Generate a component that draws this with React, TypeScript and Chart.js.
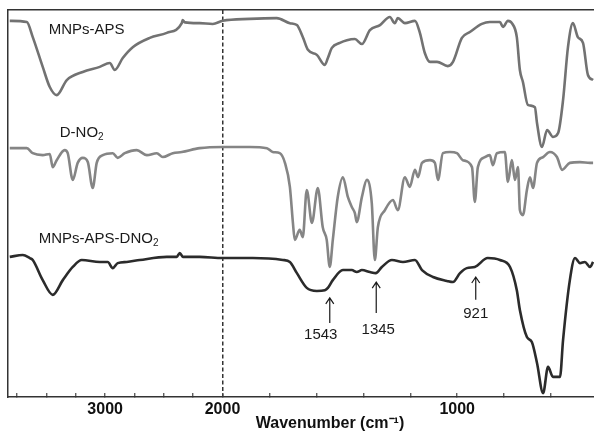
import React, { useEffect, useRef } from 'react';
import { Chart, registerables } from 'chart.js';

Chart.register(...registerables);

// ---- Data (wavenumber in cm-1, transmittance in arbitrary units, offset per trace) ----
const mnpsApsWn = [3813, 3668, 3617, 3532, 3472, 3413, 3327, 3191, 3046, 2961, 2918, 2850, 2765, 2620, 2475, 2347, 2340, 2320, 2194, 2083, 1999, 1884, 1769, 1713, 1683, 1658, 1636, 1598, 1564, 1551, 1534, 1500, 1470, 1436, 1406, 1372, 1329, 1287, 1266, 1253, 1223, 1180, 1159, 1138, 1116, 1086, 1040, 1018, 980, 946, 895, 861, 818, 805, 784, 767, 746, 733, 720, 699, 669, 660, 639, 617, 592, 570, 549, 528, 507, 486, 464, 443, 421];
const mnpsApsT = [97.2, 96.9, 93.0, 85.3, 80.1, 78.0, 81.9, 84.0, 85.3, 86.3, 84.5, 87.6, 90.4, 92.8, 94.1, 96.6, 97.4, 96.8, 96.6, 96.4, 97.2, 97.7, 97.9, 96.6, 96.1, 93.0, 89.7, 88.4, 85.8, 87.6, 90.2, 91.5, 92.2, 92.5, 91.2, 94.8, 96.1, 98.2, 96.6, 97.9, 96.6, 97.2, 94.1, 88.9, 86.6, 86.6, 85.5, 86.6, 92.8, 94.3, 96.4, 96.9, 96.9, 95.6, 97.2, 96.6, 93.0, 84.5, 81.4, 75.5, 74.9, 70.8, 64.6, 69.0, 67.2, 68.2, 76.7, 90.4, 96.6, 93.0, 91.5, 83.2, 81.9];

const dno2Wn = [3813, 3668, 3617, 3532, 3472, 3447, 3413, 3345, 3319, 3276, 3234, 3191, 3148, 3106, 3072, 3020, 2935, 2893, 2833, 2731, 2645, 2560, 2509, 2424, 2347, 2194, 1999, 1884, 1811, 1786, 1756, 1734, 1713, 1700, 1692, 1671, 1658, 1641, 1619, 1594, 1573, 1556, 1543, 1530, 1509, 1487, 1466, 1449, 1436, 1428, 1406, 1385, 1364, 1351, 1338, 1308, 1274, 1253, 1223, 1202, 1180, 1167, 1150, 1116, 1095, 1082, 1061, 1031, 1001, 976, 937, 925, 912, 882, 861, 848, 831, 797, 784, 767, 754, 741, 733, 720, 703, 690, 677, 660, 634, 605, 575, 553, 520, 477, 434, 421];
const dno2T = [64.3, 64.3, 63.0, 62.5, 62.8, 59.4, 61.2, 63.8, 63.0, 56.1, 60.5, 61.8, 60.7, 54.0, 60.5, 62.5, 63.0, 61.8, 63.0, 63.8, 62.5, 63.0, 62.0, 63.0, 63.3, 64.3, 64.6, 64.6, 64.3, 63.3, 63.0, 60.5, 54.3, 45.0, 40.6, 43.2, 41.3, 53.5, 45.0, 54.0, 43.9, 40.6, 33.6, 40.6, 51.7, 56.8, 51.7, 49.1, 47.5, 45.2, 51.7, 56.1, 50.1, 35.4, 43.9, 48.3, 50.9, 48.3, 56.8, 54.3, 58.7, 56.8, 60.5, 61.2, 60.5, 56.1, 63.0, 63.3, 63.0, 61.2, 59.4, 50.4, 59.4, 62.0, 62.5, 59.9, 63.0, 63.3, 55.6, 61.2, 56.1, 59.4, 48.3, 47.0, 53.5, 56.8, 54.0, 60.5, 62.0, 63.3, 62.0, 58.7, 60.5, 60.7, 60.5, 60.5];

const mnpsApsDno2Wn = [3813, 3702, 3642, 3617, 3532, 3447, 3361, 3276, 3199, 3046, 2978, 2935, 2893, 2816, 2705, 2475, 2390, 2364, 2338, 2194, 1999, 1871, 1743, 1713, 1683, 1641, 1598, 1564, 1551, 1530, 1487, 1449, 1428, 1406, 1372, 1347, 1321, 1278, 1231, 1180, 1150, 1103, 1044, 1018, 988, 959, 925, 870, 818, 775, 746, 733, 703, 682, 660, 634, 613, 592, 562, 549, 520, 498, 477, 456, 434, 421];
const mnpsApsDno2T = [36.2, 36.7, 35.9, 35.4, 30.2, 26.4, 30.2, 33.6, 35.4, 34.9, 34.9, 33.3, 34.6, 34.9, 35.4, 36.2, 36.2, 37.2, 36.2, 36.2, 35.9, 35.9, 35.4, 34.9, 32.0, 28.2, 27.4, 27.6, 28.2, 30.2, 32.8, 32.8, 32.3, 32.8, 32.3, 32.0, 33.6, 35.4, 34.9, 35.4, 32.8, 31.0, 30.0, 29.7, 32.0, 33.3, 33.6, 35.9, 35.4, 33.6, 27.6, 22.5, 15.5, 14.2, 8.8, 1.0, 7.8, 5.2, 5.2, 14.7, 30.2, 35.9, 34.6, 34.9, 33.6, 34.9];

// Axis ticks (cm-1)
const tickWn = [3750, 3500, 3250, 3000, 2750, 2500, 2250, 2000, 1800, 1600, 1400, 1200, 1000, 800, 600, 400, 200];
const labeledWn = [3000, 2000, 1000];
const xMinWn = 170;
const xMaxWn = 3828;

// Trace labels
const traceNames = ['MNPs-APS', 'D-NO', 'MNPs-APS-DNO'];
const traceSubs = ['', '2', '2'];
const traceLabelWn = [3481, 3387, 3566];
const traceLabelT = [94.8, 68.2, 40.8];

// Peak annotations
const peakWn = [1543, 1345, 921];
const peakTip = [25.6, 29.7, 31.0];
const peakTail = [19.1, 21.7, 25.1];
const peakText = [16.0, 17.3, 21.4];
const peakTextShift = [-9, 2, 0];

// split scale: above 2000 cm-1 compressed by factor 2
const T = (w: number) => (w <= 2000 ? w : 2000 + (w - 2000) / 2);
const Tinv = (t: number) => (t <= 2000 ? t : 2000 + (t - 2000) * 2);

const FONT = '"Liberation Sans", Arial, Helvetica, sans-serif';

const toPoints = (wn: number[], v: number[]) => wn.map((w, i) => ({ x: T(w), y: v[i] }));

const annotPlugin = {
  id: 'annot',
  afterDatasetsDraw(chart: any) {
    const { ctx } = chart;
    const x = chart.scales.x;
    const y = chart.scales.y;
    ctx.save();
    ctx.fillStyle = '#1a1a1a';
    ctx.strokeStyle = '#1a1a1a';
    ctx.textBaseline = 'middle';
    traceNames.forEach((name, i) => {
      const px = x.getPixelForValue(T(traceLabelWn[i]));
      const py = y.getPixelForValue(traceLabelT[i]);
      ctx.font = `15px ${FONT}`;
      ctx.textAlign = 'left';
      ctx.fillText(name, px, py);
      if (traceSubs[i]) {
        const w = ctx.measureText(name).width;
        ctx.font = `10px ${FONT}`;
        ctx.fillText(traceSubs[i], px + w, py + 4);
      }
    });
    ctx.lineWidth = 1.2;
    peakWn.forEach((w, i) => {
      const ax = x.getPixelForValue(T(w));
      const tip = y.getPixelForValue(peakTip[i]);
      const tail = y.getPixelForValue(peakTail[i]);
      ctx.beginPath();
      ctx.moveTo(ax, tail);
      ctx.lineTo(ax, tip);
      ctx.moveTo(ax - 4, tip + 6);
      ctx.lineTo(ax, tip);
      ctx.lineTo(ax + 4, tip + 6);
      ctx.stroke();
      ctx.font = `15px ${FONT}`;
      ctx.textAlign = 'center';
      ctx.fillText(String(w), ax + peakTextShift[i], y.getPixelForValue(peakText[i]));
    });
    ctx.restore();
  },
};

export default function App() {
  const ref = useRef<HTMLCanvasElement | null>(null);
  useEffect(() => {
    if (!ref.current) return;
    const lineDs = (label: string, wn: number[], v: number[], color: string) => ({
      label,
      data: toPoints(wn, v),
      borderColor: color,
      borderWidth: 2.6,
      pointRadius: 0,
      cubicInterpolationMode: 'monotone',
      fill: false,
      xAxisID: 'x',
      yAxisID: 'y',
    });
    const chart = new Chart(ref.current, {
      type: 'line',
      data: {
        datasets: [
          lineDs('MNPs-APS', mnpsApsWn, mnpsApsT, '#727272'),
          lineDs('D-NO2', dno2Wn, dno2T, '#858585'),
          lineDs('MNPs-APS-DNO2', mnpsApsDno2Wn, mnpsApsDno2T, '#2b2b2b'),
        ],
      },
      options: {
        responsive: false,
        animation: false,
        layout: { padding: { left: 8, top: 10, right: 8, bottom: 0 } },
        plugins: { legend: { display: false }, tooltip: { enabled: false } },
        scales: {
          x: {
            type: 'linear',
            position: 'bottom',
            reverse: true,
            min: T(xMinWn),
            max: T(xMaxWn),
            afterBuildTicks: (s: any) => {
              s.ticks = tickWn.filter((w) => w >= xMinWn && w <= xMaxWn).map((w) => ({ value: T(w) }));
            },
            ticks: {
              autoSkip: false,
              maxRotation: 0,
              padding: 7.4,
              color: '#111',
              font: { family: FONT, size: 16, weight: 'bold' },
              callback: (v: any) => {
                const w = Math.round(Tinv(Number(v)));
                return labeledWn.includes(w) ? String(w) : '';
              },
            },
            grid: {
              drawOnChartArea: true,
              drawTicks: true,
              tickLength: -4,
              tickColor: '#444',
              tickWidth: 1.2,
              lineWidth: 1.5,
              color: (c: any) =>
                c.tick && Math.round(Tinv(c.tick.value)) === 2000 ? '#333' : 'rgba(0,0,0,0)',
            },
            border: { display: true, color: '#333', width: 1.5, dash: [4, 2.5] },
            title: {
              display: true,
              text: 'Wavenumber (cm⁻¹)',
              color: '#111',
              font: { family: FONT, size: 16, weight: 'bold', lineHeight: 1 },
              padding: { top: -11, bottom: 2 },
            },
          },
          xTop: {
            type: 'linear',
            position: 'top',
            ticks: { display: false },
            grid: { display: false, drawTicks: false },
            border: { display: true, color: '#333', width: 1.5 },
          },
          y: {
            min: 0,
            max: 100,
            ticks: { display: false },
            grid: { display: false, drawTicks: false },
            border: { display: true, color: '#333', width: 1.5 },
          },
        },
      },
      plugins: [annotPlugin],
    } as any);
    return () => chart.destroy();
  }, []);
  return (
    <div
      style={{
        position: 'fixed',
        left: 0,
        top: 0,
        width: 594,
        height: 434,
        overflow: 'hidden',
        background: '#fff',
      }}
    >
      <canvas ref={ref} width={660} height={434} style={{ display: 'block' }} />
    </div>
  );
}
